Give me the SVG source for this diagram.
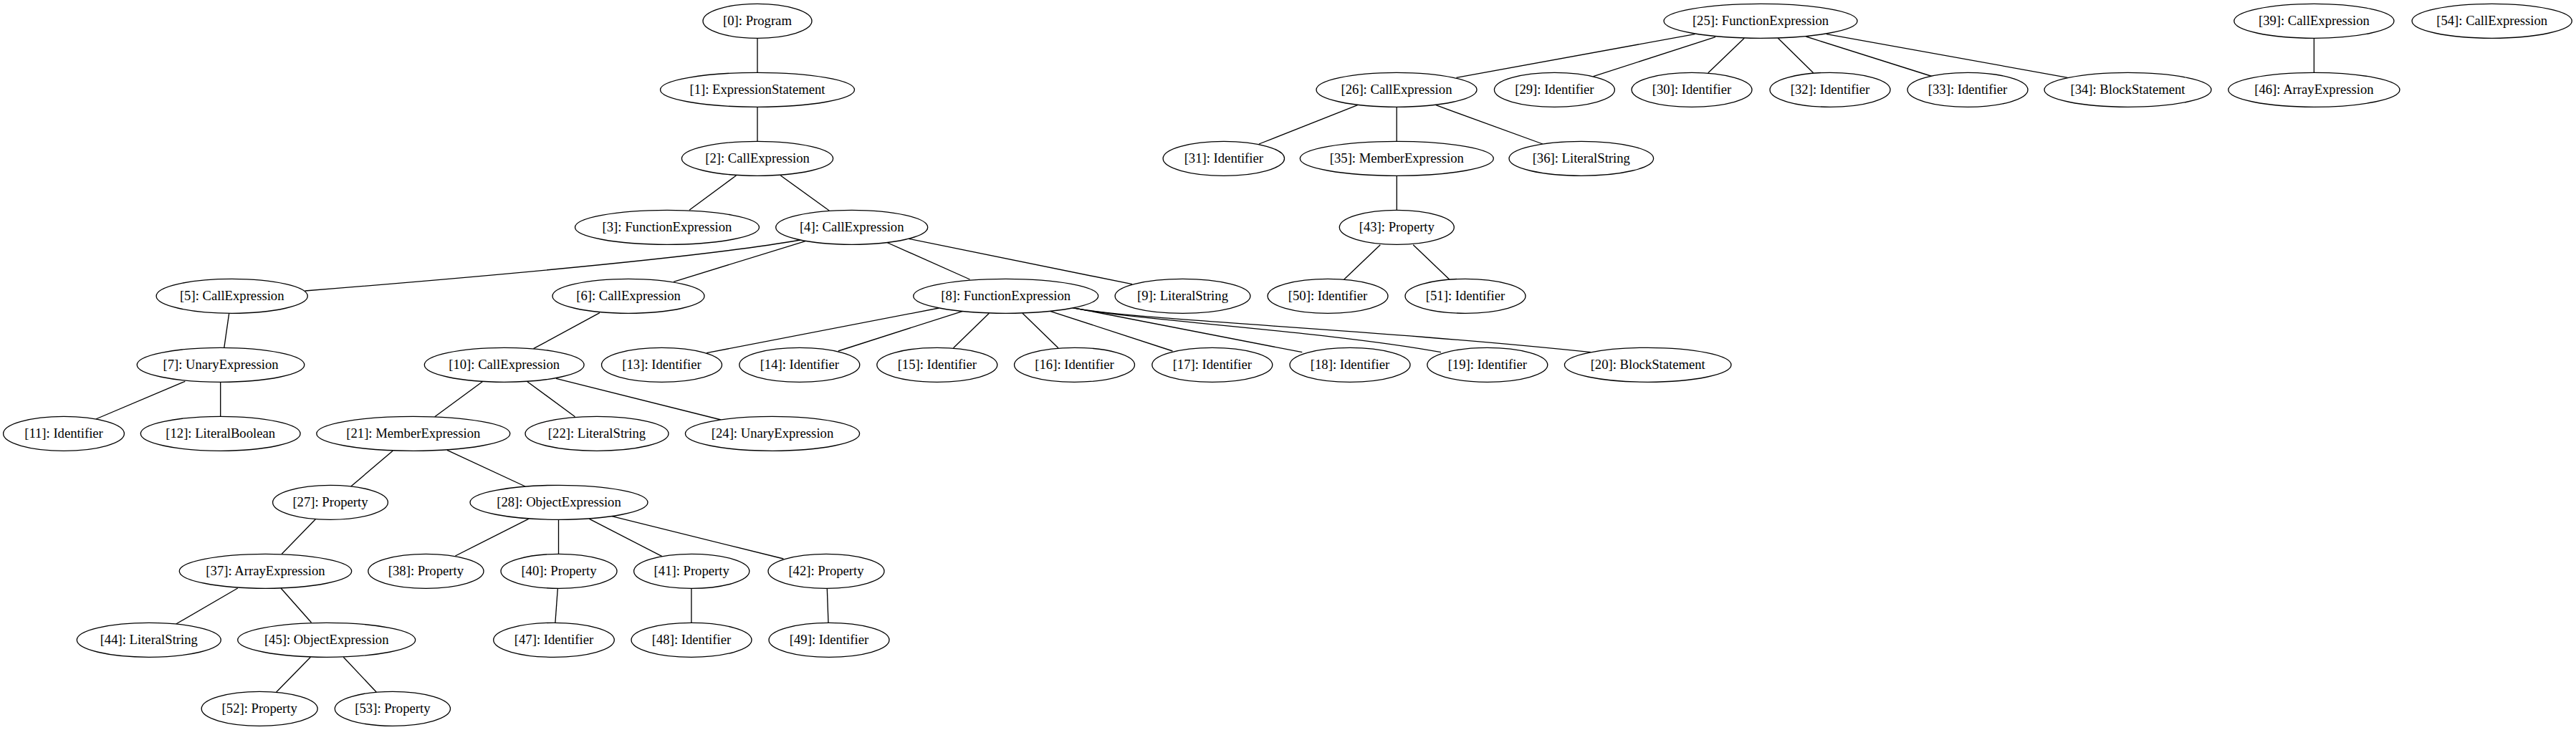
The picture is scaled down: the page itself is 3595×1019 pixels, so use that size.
<svg xmlns="http://www.w3.org/2000/svg" width="3595" height="1019" viewBox="0 0 3595 1019">
<style>
.n ellipse{fill:#fff;stroke:#000;stroke-width:1.33}
.n text{font-family:"Liberation Serif","Times New Roman",serif;font-size:18.67px;text-anchor:middle;fill:#000}
#edges path{fill:none;stroke:#000;stroke-width:1.33}
</style>
<rect width="3595" height="1019" fill="#fff"/>
<g id="edges">
<path d="M1057,53 L1057,101.3"/>
<path d="M1057,149.3 L1057,197.3"/>
<path d="M1027.4,245 L962,293.3"/>
<path d="M1089.4,245 L1157.2,294"/>
<path d="M1117,335 Q952,363.9 425.5,406"/>
<path d="M1124,336.7 L940,393.3"/>
<path d="M1230,335 L1353.5,390"/>
<path d="M1267,333 L1580,396.7"/>
<path d="M319.7,437.3 L312.8,485.3"/>
<path d="M836.9,436.7 L744.5,486.7"/>
<path d="M258.3,532.3 L133.7,585"/>
<path d="M307.7,533.3 L307.7,581.3"/>
<path d="M1310.4,430 L986.1,492.7"/>
<path d="M1343.7,434.3 L1169.8,490"/>
<path d="M1380.4,437.3 L1330.5,485.7"/>
<path d="M1427,437.3 L1476.9,485.7"/>
<path d="M1465.4,434.3 L1636.4,490"/>
<path d="M1496,429.3 L1817.3,491.7"/>
<path d="M1496,429.3 C1570,446 1850,462 2011,491.7"/>
<path d="M1496,429.3 C1580,447 1900,458 2220.4,491.7"/>
<path d="M673.3,532.7 L606.7,581.7"/>
<path d="M735.9,532.7 L802.5,581.7"/>
<path d="M776,528.3 L1006.2,586"/>
<path d="M548.2,629.3 L485,683"/>
<path d="M624,628.3 L733,679"/>
<path d="M440.8,724.3 L393.2,773.3"/>
<path d="M737.6,724.3 L635.4,776"/>
<path d="M779.5,725.3 L779.5,773.3"/>
<path d="M822.5,724.3 L924,776.7"/>
<path d="M854,720.7 L1093.4,780"/>
<path d="M331.8,821 L245.7,871"/>
<path d="M392,821 L434.5,869"/>
<path d="M778.3,821.7 L774.9,869.3"/>
<path d="M964.9,821.3 L964.9,869.3"/>
<path d="M1154.3,821.7 L1156,869.3"/>
<path d="M433.4,917.3 L385.7,966"/>
<path d="M479.3,917.3 L525.2,966"/>
<path d="M2365.4,47.7 L2032.5,108.3"/>
<path d="M2394,51.7 L2223.6,106.7"/>
<path d="M2434.3,53.3 L2383.8,101.7"/>
<path d="M2481.3,53.3 L2530.7,101.7"/>
<path d="M2520.4,51 L2696,106.5"/>
<path d="M2549,47.7 L2885.5,108.3"/>
<path d="M1894.7,146.7 L1757,201"/>
<path d="M1949.2,149.3 L1949.2,197.3"/>
<path d="M2003.8,146.7 L2153,201"/>
<path d="M1949.3,245.3 L1949.3,293.3"/>
<path d="M1926.3,341.7 L1875.8,390"/>
<path d="M1972.2,341.7 L2022.7,390"/>
<path d="M3229.4,53.3 L3229.4,101.3"/>
</g>
<g id="n0" class="n"><ellipse cx="1057" cy="29.3" rx="76" ry="24"/><text x="1057" y="35.3">[0]: Program</text></g>
<g id="n1" class="n"><ellipse cx="1057" cy="125.3" rx="135.5" ry="24"/><text x="1057" y="131.3">[1]: ExpressionStatement</text></g>
<g id="n2" class="n"><ellipse cx="1057" cy="221.3" rx="105.6" ry="24"/><text x="1057" y="227.3">[2]: CallExpression</text></g>
<g id="n3" class="n"><ellipse cx="931" cy="317.3" rx="128.5" ry="24"/><text x="931" y="323.3">[3]: FunctionExpression</text></g>
<g id="n4" class="n"><ellipse cx="1188.7" cy="317.3" rx="106" ry="24"/><text x="1188.7" y="323.3">[4]: CallExpression</text></g>
<g id="n5" class="n"><ellipse cx="323.7" cy="413.3" rx="105.6" ry="24"/><text x="323.7" y="419.3">[5]: CallExpression</text></g>
<g id="n6" class="n"><ellipse cx="877" cy="413.3" rx="106" ry="24"/><text x="877" y="419.3">[6]: CallExpression</text></g>
<g id="n8" class="n"><ellipse cx="1403.7" cy="413.3" rx="129" ry="24"/><text x="1403.7" y="419.3">[8]: FunctionExpression</text></g>
<g id="n9" class="n"><ellipse cx="1650.5" cy="413.3" rx="94.4" ry="24"/><text x="1650.5" y="419.3">[9]: LiteralString</text></g>
<g id="n50" class="n"><ellipse cx="1853" cy="413.3" rx="84" ry="24"/><text x="1853" y="419.3">[50]: Identifier</text></g>
<g id="n51" class="n"><ellipse cx="2045" cy="413.3" rx="84" ry="24"/><text x="2045" y="419.3">[51]: Identifier</text></g>
<g id="n7" class="n"><ellipse cx="308" cy="509.3" rx="116.8" ry="24"/><text x="308" y="515.3">[7]: UnaryExpression</text></g>
<g id="n10" class="n"><ellipse cx="703.7" cy="509.3" rx="111.4" ry="24"/><text x="703.7" y="515.3">[10]: CallExpression</text></g>
<g id="n13" class="n"><ellipse cx="923.5" cy="509.3" rx="84" ry="24"/><text x="923.5" y="515.3">[13]: Identifier</text></g>
<g id="n14" class="n"><ellipse cx="1115.8" cy="509.3" rx="84" ry="24"/><text x="1115.8" y="515.3">[14]: Identifier</text></g>
<g id="n15" class="n"><ellipse cx="1307.8" cy="509.3" rx="84" ry="24"/><text x="1307.8" y="515.3">[15]: Identifier</text></g>
<g id="n16" class="n"><ellipse cx="1499.5" cy="509.3" rx="84" ry="24"/><text x="1499.5" y="515.3">[16]: Identifier</text></g>
<g id="n17" class="n"><ellipse cx="1691.8" cy="509.3" rx="84" ry="24"/><text x="1691.8" y="515.3">[17]: Identifier</text></g>
<g id="n18" class="n"><ellipse cx="1884" cy="509.3" rx="84" ry="24"/><text x="1884" y="515.3">[18]: Identifier</text></g>
<g id="n19" class="n"><ellipse cx="2075.8" cy="509.3" rx="84" ry="24"/><text x="2075.8" y="515.3">[19]: Identifier</text></g>
<g id="n20" class="n"><ellipse cx="2299.7" cy="509.3" rx="116.3" ry="24"/><text x="2299.7" y="515.3">[20]: BlockStatement</text></g>
<g id="n11" class="n"><ellipse cx="89" cy="605.3" rx="84.4" ry="24"/><text x="89" y="611.3">[11]: Identifier</text></g>
<g id="n12" class="n"><ellipse cx="307.7" cy="605.3" rx="111.4" ry="24"/><text x="307.7" y="611.3">[12]: LiteralBoolean</text></g>
<g id="n21" class="n"><ellipse cx="576.8" cy="605.3" rx="135" ry="24"/><text x="576.8" y="611.3">[21]: MemberExpression</text></g>
<g id="n22" class="n"><ellipse cx="833" cy="605.3" rx="100" ry="24"/><text x="833" y="611.3">[22]: LiteralString</text></g>
<g id="n24" class="n"><ellipse cx="1078" cy="605.3" rx="121.6" ry="24"/><text x="1078" y="611.3">[24]: UnaryExpression</text></g>
<g id="n27" class="n"><ellipse cx="461" cy="701.3" rx="80.4" ry="24"/><text x="461" y="707.3">[27]: Property</text></g>
<g id="n28" class="n"><ellipse cx="780" cy="701.3" rx="124" ry="24"/><text x="780" y="707.3">[28]: ObjectExpression</text></g>
<g id="n37" class="n"><ellipse cx="370.5" cy="797.3" rx="120.2" ry="24"/><text x="370.5" y="803.3">[37]: ArrayExpression</text></g>
<g id="n38" class="n"><ellipse cx="594.4" cy="797.3" rx="80.6" ry="24"/><text x="594.4" y="803.3">[38]: Property</text></g>
<g id="n40" class="n"><ellipse cx="780" cy="797.3" rx="81" ry="24"/><text x="780" y="803.3">[40]: Property</text></g>
<g id="n41" class="n"><ellipse cx="965.2" cy="797.3" rx="80.6" ry="24"/><text x="965.2" y="803.3">[41]: Property</text></g>
<g id="n42" class="n"><ellipse cx="1153" cy="797.3" rx="81" ry="24"/><text x="1153" y="803.3">[42]: Property</text></g>
<g id="n44" class="n"><ellipse cx="207.8" cy="893.3" rx="100.5" ry="24"/><text x="207.8" y="899.3">[44]: LiteralString</text></g>
<g id="n45" class="n"><ellipse cx="455.7" cy="893.3" rx="124" ry="24"/><text x="455.7" y="899.3">[45]: ObjectExpression</text></g>
<g id="n47" class="n"><ellipse cx="773" cy="893.3" rx="84.3" ry="24"/><text x="773" y="899.3">[47]: Identifier</text></g>
<g id="n48" class="n"><ellipse cx="965" cy="893.3" rx="84" ry="24"/><text x="965" y="899.3">[48]: Identifier</text></g>
<g id="n49" class="n"><ellipse cx="1157" cy="893.3" rx="84" ry="24"/><text x="1157" y="899.3">[49]: Identifier</text></g>
<g id="n52" class="n"><ellipse cx="362.2" cy="989.3" rx="81" ry="24"/><text x="362.2" y="995.3">[52]: Property</text></g>
<g id="n53" class="n"><ellipse cx="547.9" cy="989.3" rx="80.6" ry="24"/><text x="547.9" y="995.3">[53]: Property</text></g>
<g id="n25" class="n"><ellipse cx="2457" cy="29.3" rx="135" ry="24"/><text x="2457" y="35.3">[25]: FunctionExpression</text></g>
<g id="n39" class="n"><ellipse cx="3229.4" cy="29.3" rx="111.6" ry="24"/><text x="3229.4" y="35.3">[39]: CallExpression</text></g>
<g id="n54" class="n"><ellipse cx="3477.7" cy="29.3" rx="111.6" ry="24"/><text x="3477.7" y="35.3">[54]: CallExpression</text></g>
<g id="n26" class="n"><ellipse cx="1949" cy="125.3" rx="112" ry="24"/><text x="1949" y="131.3">[26]: CallExpression</text></g>
<g id="n29" class="n"><ellipse cx="2169.4" cy="125.3" rx="84" ry="24"/><text x="2169.4" y="131.3">[29]: Identifier</text></g>
<g id="n30" class="n"><ellipse cx="2361" cy="125.3" rx="84" ry="24"/><text x="2361" y="131.3">[30]: Identifier</text></g>
<g id="n32" class="n"><ellipse cx="2554" cy="125.3" rx="84" ry="24"/><text x="2554" y="131.3">[32]: Identifier</text></g>
<g id="n33" class="n"><ellipse cx="2746" cy="125.3" rx="84" ry="24"/><text x="2746" y="131.3">[33]: Identifier</text></g>
<g id="n34" class="n"><ellipse cx="2969.5" cy="125.3" rx="116.5" ry="24"/><text x="2969.5" y="131.3">[34]: BlockStatement</text></g>
<g id="n46" class="n"><ellipse cx="3229.4" cy="125.3" rx="119.6" ry="24"/><text x="3229.4" y="131.3">[46]: ArrayExpression</text></g>
<g id="n31" class="n"><ellipse cx="1707.8" cy="221.3" rx="84.7" ry="24"/><text x="1707.8" y="227.3">[31]: Identifier</text></g>
<g id="n35" class="n"><ellipse cx="1949.3" cy="221.3" rx="135" ry="24"/><text x="1949.3" y="227.3">[35]: MemberExpression</text></g>
<g id="n36" class="n"><ellipse cx="2206.8" cy="221.3" rx="100.8" ry="24"/><text x="2206.8" y="227.3">[36]: LiteralString</text></g>
<g id="n43" class="n"><ellipse cx="1949.3" cy="317.3" rx="80" ry="24"/><text x="1949.3" y="323.3">[43]: Property</text></g>
</svg>
